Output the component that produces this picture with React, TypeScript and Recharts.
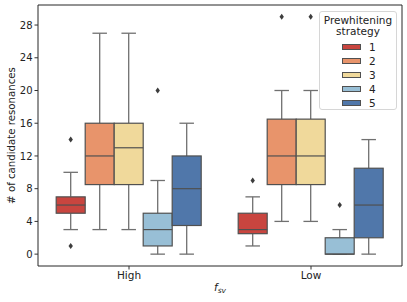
import { ComposedChart, Bar, XAxis, YAxis, Legend, ReferenceArea } from 'recharts';

const categories = ['High', 'Low'];
const strategies = ['1', '2', '3', '4', '5'];
const colors = ['#c9453f', '#e8946b', '#f0d99b', '#98bfd6', '#5077aa'];
const yTicks = [0, 4, 8, 12, 16, 20, 24, 28];

// [category][strategy]
const whiskerLo = [
  [3, 3, 3, 0, 0],
  [1, 4, 4, 0, 0],
];
const q1 = [
  [5, 8.5, 8.5, 1, 3.5],
  [2.5, 8.5, 8.5, 0, 2],
];
const medians = [
  [6, 12, 13, 3, 8],
  [3, 12, 12, 0, 6],
];
const q3 = [
  [7, 16, 16, 5, 12],
  [5, 16.5, 16.5, 2, 10.5],
];
const whiskerHi = [
  [10, 27, 27, 9, 16],
  [7, 20, 20, 3, 14],
];
const outliers = [
  [[14, 1], [], [], [20], []],
  [[9], [29], [29], [6], []],
];

const LINE = '#505050';
const WHISKER = '#707070';

const data = categories.map((cat, ci) => {
  const row: Record<string, any> = { cat, ci };
  strategies.forEach((_, si) => {
    row[`s${si}`] = [whiskerLo[ci][si], whiskerHi[ci][si]];
  });
  return row;
});

function BoxShape(props: any) {
  const { x, y, width, height, payload, si, fill } = props;
  const ci = payload.ci;
  const lo = whiskerLo[ci][si];
  const hi = whiskerHi[ci][si];
  const top = Math.min(y, y + height);
  const bottom = Math.max(y, y + height);
  const py = (v: number) => bottom - ((v - lo) * (bottom - top)) / (hi - lo);
  const cx = x + width / 2;
  const capW = width / 4;
  const yq1 = py(q1[ci][si]);
  const yq3 = py(q3[ci][si]);
  return (
    <g>
      <line x1={cx} x2={cx} y1={py(hi)} y2={yq3} stroke={WHISKER} strokeWidth={1.3} />
      <line x1={cx} x2={cx} y1={yq1} y2={py(lo)} stroke={WHISKER} strokeWidth={1.3} />
      <line x1={cx - capW} x2={cx + capW} y1={py(hi)} y2={py(hi)} stroke={WHISKER} strokeWidth={1.3} />
      <line x1={cx - capW} x2={cx + capW} y1={py(lo)} y2={py(lo)} stroke={WHISKER} strokeWidth={1.3} />
      <rect x={x} y={yq3} width={width} height={yq1 - yq3} fill={fill} stroke={LINE} strokeWidth={1.2} />
      <line x1={x} x2={x + width} y1={py(medians[ci][si])} y2={py(medians[ci][si])} stroke={LINE} strokeWidth={1.2} />
      {outliers[ci][si].map((v, k) => {
        const oy = py(v);
        return (
          <path
            key={k}
            d={`M${cx},${oy - 3} L${cx + 2.2},${oy} L${cx},${oy + 3} L${cx - 2.2},${oy} Z`}
            fill="#3d3d3d"
          />
        );
      })}
    </g>
  );
}

function LegendBox({ payload }: any) {
  return (
    <div
      style={{
        width: 78,
        height: 99,
        border: '1px solid #d6d6d6',
        borderRadius: 3,
        background: 'rgba(255,255,255,0.85)',
        fontFamily: 'DejaVu Sans',
        fontSize: 10.5,
        color: '#222',
        boxSizing: 'border-box',
        paddingTop: 3,
      }}
    >
      <div style={{ textAlign: 'center', lineHeight: '11px' }}>Prewhitening</div>
      <div style={{ textAlign: 'center', lineHeight: '11px', marginBottom: 3 }}>strategy</div>
      {(payload || []).map((p: any) => (
        <div key={p.value} style={{ display: 'flex', alignItems: 'center', height: 14, paddingLeft: 22 }}>
          <span
            style={{
              display: 'inline-block',
              width: 19,
              height: 6,
              background: p.color,
              border: `1px solid ${LINE}`,
              boxSizing: 'border-box',
              marginRight: 8,
            }}
          />
          <span>{p.value}</span>
        </div>
      ))}
    </div>
  );
}

export default function App() {
  return (
    <div style={{ position: 'absolute', left: 0, top: 0 }}>
      <ComposedChart
        width={407}
        height={302}
        data={data}
        margin={{ top: 5, right: 5, bottom: 0, left: 0 }}
        barCategoryGap="10%"
        barGap={0}
      >
        <XAxis
          dataKey="cat"
          height={36}
          axisLine={false}
          tickLine={{ stroke: '#333' }}
          tickSize={3.5}
          tick={{ fontSize: 10.5, fill: '#222', fontFamily: 'DejaVu Sans' }}
          label={(lp: any) => {
            const vb = lp.viewBox;
            return (
              <text x={vb.x + vb.width / 2} y={vb.y + 25} textAnchor="middle" fontFamily="DejaVu Sans" fontSize={10.5} fill="#222">
                <tspan fontStyle="italic">f</tspan>
                <tspan fontStyle="italic" fontSize={7.5} dy={2}>sv</tspan>
              </text>
            );
          }}
        />
        <YAxis
          type="number"
          domain={[-1.45, 30.45]}
          ticks={yTicks}
          width={38}
          axisLine={false}
          tickLine={{ stroke: '#333' }}
          tickSize={3.5}
          allowDataOverflow
          tick={{ fontSize: 10, fill: '#222', fontFamily: 'DejaVu Sans' }}
          label={(lp: any) => {
            const vb = lp.viewBox;
            return (
              <text
                x={11}
                y={vb.y + vb.height / 2}
                transform={`rotate(-90, 11, ${vb.y + vb.height / 2})`}
                textAnchor="middle"
                dominantBaseline="central"
                fontFamily="DejaVu Sans"
                fontSize={10.2}
                fill="#222"
              >
                # of candidate resonances
              </text>
            );
          }}
        />
        {strategies.map((s, si) => (
          <Bar
            key={s}
            dataKey={`s${si}`}
            name={s}
            fill={colors[si]}
            isAnimationActive={false}
            shape={(p: any) => <BoxShape {...p} si={si} fill={colors[si]} />}
          />
        ))}
        <ReferenceArea y1={-1.45} y2={30.45} fill="none" stroke="#262626" strokeWidth={1} fillOpacity={0} ifOverflow="visible" />
        <Legend
          content={<LegendBox />}
          layout="vertical"
          verticalAlign="middle"
          align="center"
          wrapperStyle={{ position: 'absolute', left: 319, top: 11, width: 78 }}
        />
      </ComposedChart>
    </div>
  );
}
